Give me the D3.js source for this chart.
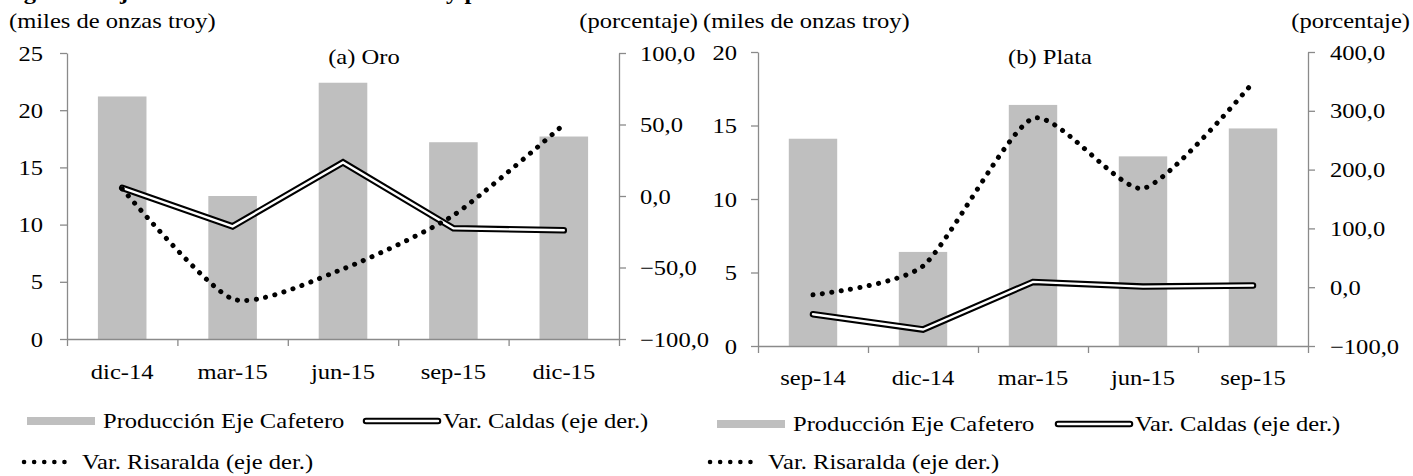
<!DOCTYPE html>
<html><head><meta charset="utf-8">
<script src="https://cdn.jsdelivr.net/npm/d3@7"></script>
<style>
body{margin:0;background:#fff;}
svg text{font-family:"Liberation Serif","DejaVu Serif","Times New Roman",serif !important;fill:#000;}
</style></head>
<body><svg id="c" width="1413" height="476"></svg>
<script>
// ---- data ----
const catsOro = ["dic-14","mar-15","jun-15","sep-15","dic-15"];
const prodOro = [21.2, 12.5, 22.4, 17.2, 17.7];
const caldasOro = [5.7, -21.2, 23.5, -22.6, -24.0];
const risOro = [5.0, -72.0, -51.0, -13.5, 50.0];
const leftTicksOro = [0,5,10,15,20,25];
const rightTicksOro = [-100,-50,0,50,100];

const catsPlata = ["sep-14","dic-14","mar-15","jun-15","sep-15"];
const prodPlata = [14.1, 6.4, 16.4, 12.9, 14.8];
const caldasPlata = [-46, -72, 9, 1, 3];
const risPlata = [-13, 36, 287, 168, 348];
const leftTicksPlata = [0,5,10,15,20];
const rightTicksPlata = [-100,0,100,200,300,400];

const svg = d3.select("#c");
const FS = 21;        // font size
const SX = 1.17;      // horizontal stretch of the text, as in the reference
const FONT = "Liberation Serif";
const AX = "#8a8a8a";
const fmtR = d => d3.format(".1f")(d).replace(".", ",");

function stretch(sel){
  sel.each(function(){
    const t = d3.select(this);
    const x = +t.attr("x") || 0, y = +t.attr("y") || 0;
    t.attr("transform", `translate(${x},${y}) scale(${SX},1) translate(${-x},${-y})`);
  });
  return sel;
}

// clipped title line (only descenders visible in the reference)
stretch(svg.append("text").attr("x", 2).attr("y", -1).attr("font-weight","bold").attr("font-size",FS)
  .text("Figura 9. Eje Cafetero. Producción de oro y plata"));

function panel(o){
  const g = svg.append("g");
  const x = d3.scaleBand().domain(o.cats).range([o.x0,o.x1]).paddingInner(0.56).paddingOuter(0.28);
  const xb = d3.scaleLinear().domain([0,o.cats.length]).range([o.x0,o.x1]);
  const yl = d3.scaleLinear().domain([o.lt[0], o.lt[o.lt.length-1]]).range([o.yb,o.yt]);
  const yr = d3.scaleLinear().domain([o.rt[0], o.rt[o.rt.length-1]]).range([o.yb,o.yt]);
  const xc = d => x(d) + x.bandwidth()/2;

  // bars
  g.selectAll("rect.bar").data(o.prod).join("rect")
    .attr("x",(d,i)=>x(o.cats[i])).attr("width",x.bandwidth())
    .attr("y",d=>yl(d)).attr("height",d=>yl(0)-yl(d)).attr("fill","#bfbfbf");

  // axes
  const la = g.append("g").attr("transform",`translate(${o.x0},0)`)
    .call(d3.axisLeft(yl).tickValues(o.lt).tickSize(7).tickSizeOuter(0).tickPadding(o.lpad).tickFormat(d3.format("d")));
  const ra = g.append("g").attr("transform",`translate(${o.x1},0)`)
    .call(d3.axisRight(yr).tickValues(o.rt).tickSize(7).tickSizeOuter(0).tickPadding(o.rpad).tickFormat(fmtR));
  const ba = g.append("g").attr("transform",`translate(0,${o.yb})`)
    .call(d3.axisBottom(xb).tickValues(d3.range(o.cats.length+1)).tickSize(7).tickSizeOuter(0).tickFormat(""));
  const bl = g.append("g").attr("transform",`translate(0,${o.yb})`)
    .call(d3.axisBottom(x).tickSize(0).tickPadding(o.xlPad));
  bl.select(".domain").remove();
  [la,ra,ba,bl].forEach(a=>a.attr("font-family",FONT).attr("font-size",FS));
  [la,ra,ba].forEach(a=>{a.selectAll("path,line").attr("stroke",AX).attr("stroke-width",1.3);});
  [la,ra,bl].forEach(a=>{a.selectAll("text").attr("font-size",FS).attr("fill","#000"); stretch(a.selectAll("text"));});
  la.selectAll("text").attr("dy","0.34em");
  ra.selectAll("text").attr("dy","0.34em");

  // Caldas double line
  const line = d3.line().x((d,i)=>xc(o.cats[i])).y(d=>yr(d));
  g.append("path").attr("d",line(o.caldas)).attr("fill","none").attr("stroke","#000").attr("stroke-width",6.5).attr("stroke-linejoin","miter").attr("stroke-linecap","round");
  g.append("path").attr("d",line(o.caldas)).attr("fill","none").attr("stroke","#fff").attr("stroke-width",2.4).attr("stroke-linejoin","miter").attr("stroke-linecap","round");

  // Risaralda dotted smooth
  const sline = d3.line().x((d,i)=>xc(o.cats[i])).y(d=>yr(d)).curve(d3.curveCardinal.tension(0.35));
  g.append("path").attr("d",sline(o.ris)).attr("fill","none").attr("stroke","#000").attr("stroke-width",5)
    .attr("stroke-linecap","round").attr("stroke-dasharray","0.1 9.4");

  // headers
  stretch(g.append("text").attr("x",o.hx0).attr("y",28).attr("font-size",FS).text("(miles de onzas troy)"));
  stretch(g.append("text").attr("x",o.hx1).attr("y",28).attr("font-size",FS).attr("text-anchor","end").text("(porcentaje)"));
  stretch(g.append("text").attr("x",o.tx).attr("y",64).attr("font-size",FS).attr("text-anchor","middle").text(o.title));

  // legend
  const L = o.leg;
  g.append("rect").attr("x",L.rx).attr("y",L.y1-4).attr("width",68).attr("height",8).attr("fill","#bfbfbf");
  stretch(g.append("text").attr("x",L.rx+76).attr("y",L.y1+7).attr("font-size",FS).text("Producción Eje Cafetero"));
  g.append("line").attr("x1",L.cx).attr("x2",L.cx+72).attr("y1",L.y1).attr("y2",L.y1).attr("stroke","#000").attr("stroke-width",6.5).attr("stroke-linecap","round");
  g.append("line").attr("x1",L.cx).attr("x2",L.cx+72).attr("y1",L.y1).attr("y2",L.y1).attr("stroke","#fff").attr("stroke-width",2.4).attr("stroke-linecap","round");
  stretch(g.append("text").attr("x",L.cx+77).attr("y",L.y1+7).attr("font-size",FS).text("Var. Caldas (eje der.)"));
  g.append("line").attr("x1",L.dx).attr("x2",L.dx+50).attr("y1",L.y2).attr("y2",L.y2).attr("stroke","#000").attr("stroke-width",4.5).attr("stroke-linecap","round").attr("stroke-dasharray","0.1 10");
  stretch(g.append("text").attr("x",L.dx+58).attr("y",L.y2+7).attr("font-size",FS).text("Var. Risaralda (eje der.)"));
}

panel({cats:catsOro, prod:prodOro, caldas:caldasOro, ris:risOro, lt:leftTicksOro, rt:rightTicksOro,
  x0:67, x1:619, yt:53, yb:339, xlPad:25, lpad:17, rpad:14, hx0:9, hx1:698, tx:364, title:"(a) Oro",
  leg:{rx:27, y1:421, cx:366, dx:24, y2:462}});
panel({cats:catsPlata, prod:prodPlata, caldas:caldasPlata, ris:risPlata, lt:leftTicksPlata, rt:rightTicksPlata,
  x0:758, x1:1308, yt:52, yb:346, xlPad:24, lpad:14, rpad:15, hx0:703, hx1:1410, tx:1050, title:"(b) Plata",
  leg:{rx:717, y1:424, cx:1058, dx:710, y2:462}});
</script></body></html>
